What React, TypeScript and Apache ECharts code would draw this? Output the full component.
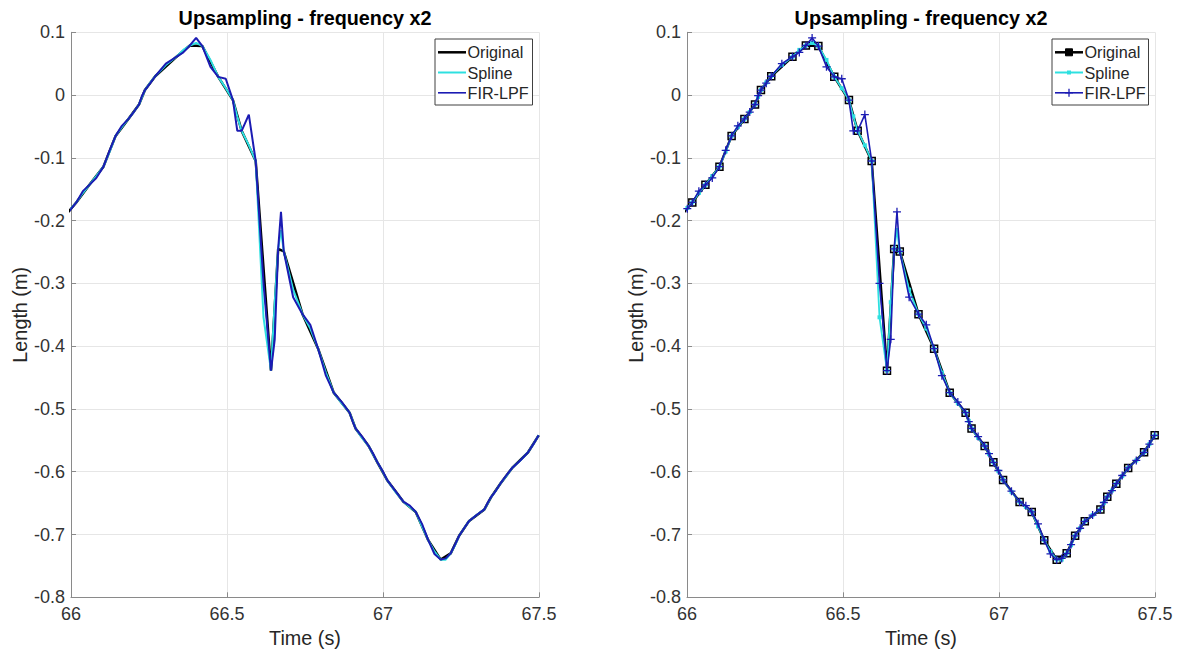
import React, { useEffect, useRef } from "react";
import * as echarts from "echarts";

// ---- Data ----
const origT = [65.985, 66.017, 66.059, 66.104, 66.143, 66.184, 66.218, 66.237, 66.27, 66.338, 66.381, 66.421, 66.472, 66.519, 66.547, 66.592, 66.641, 66.664, 66.682, 66.742, 66.792, 66.842, 66.893, 66.912, 66.954, 66.982, 67.013, 67.066, 67.105, 67.145, 67.185, 67.217, 67.244, 67.275, 67.325, 67.347, 67.376, 67.414, 67.465, 67.499];
const origV = [-0.19, -0.171, -0.143, -0.114, -0.065, -0.038, -0.015, 0.008, 0.03, 0.061, 0.079, 0.078, 0.029, -0.008, -0.057, -0.105, -0.439, -0.245, -0.249, -0.349, -0.404, -0.474, -0.506, -0.531, -0.559, -0.585, -0.613, -0.648, -0.664, -0.709, -0.74, -0.73, -0.702, -0.679, -0.66, -0.64, -0.619, -0.594, -0.569, -0.542];

// inserted (upsampled) samples between the original ones
const midT = [66.001, 66.038, 66.081, 66.124, 66.163, 66.201, 66.228, 66.254, 66.304, 66.36, 66.401, 66.447, 66.496, 66.533, 66.57, 66.617, 66.653, 66.673, 66.712, 66.767, 66.817, 66.868, 66.903, 66.933, 66.968, 66.998, 67.04, 67.086, 67.125, 67.165, 67.201, 67.231, 67.26, 67.3, 67.336, 67.362, 67.395, 67.44, 67.482];
const splineMidV = [-0.18, -0.156, -0.129, -0.09, -0.051, -0.027, -0.003, 0.02, 0.048, 0.072, 0.083, 0.056, 0.011, -0.034, -0.08, -0.354, -0.33, -0.215, -0.31, -0.372, -0.442, -0.491, -0.519, -0.546, -0.572, -0.599, -0.632, -0.656, -0.687, -0.727, -0.74, -0.717, -0.69, -0.669, -0.65, -0.63, -0.607, -0.582, -0.556];
const firMidV = [-0.181, -0.153, -0.132, -0.088, -0.049, -0.027, -0.001, 0.019, 0.05, 0.068, 0.091, 0.045, 0.026, -0.057, -0.031, -0.3, -0.389, -0.186, -0.322, -0.366, -0.447, -0.489, -0.52, -0.544, -0.571, -0.598, -0.631, -0.654, -0.683, -0.731, -0.738, -0.716, -0.69, -0.669, -0.649, -0.63, -0.606, -0.582, -0.556];

const seriesNames = ["Original", "Spline", "FIR-LPF"];
const xTicks = { min: 66, max: 67.5, interval: 0.5 };
const yTicks = { min: -0.8, max: 0.1, interval: 0.1 };
const titleText = "Upsampling - frequency x2";
const xName = "Time (s)";
const yName = "Length (m)";

// ---- Styles ----
const FONT = '"Liberation Sans", Arial, Helvetica, sans-serif';
const TXT = "#262626";
const C_ORIG = "#000000";
const C_SPL = "#2ee0e0";
const C_FIR = "#1b1bb3";
const PLUS = "path://M4.2,0 H5.8 V4.2 H10 V5.8 H5.8 V10 H4.2 V5.8 H0 V4.2 H4.2 Z";

function merge(tA: number[], vA: number[], tB: number[], vB: number[]) {
  const pts: number[][] = [];
  tA.forEach((t, i) => pts.push([t, vA[i]]));
  tB.forEach((t, i) => pts.push([t, vB[i]]));
  pts.sort((a, b) => a[0] - b[0]);
  return pts;
}

const origData = origT.map((t, i) => [t, origV[i]]);
const splineData = merge(origT, origV, midT, splineMidV);
const firData = merge(origT, origV, midT, firMidV);

const GRIDS = [
  { left: 71, top: 32.3, width: 468, height: 565 },
  { left: 687, top: 32.3, width: 468, height: 565 },
];

function fmt(v: number) {
  return String(Math.round(v * 10) / 10);
}

function legendGraphics(x: number, w: number, markers: boolean) {
  const els: any[] = [];
  els.push({
    type: "rect",
    z: 100,
    shape: { x, y: 39, width: w, height: 66 },
    style: { fill: "#ffffff", stroke: "#404040", lineWidth: 1 },
  });
  const ys = [52.3, 72.5, 92.8];
  const cols = [C_ORIG, C_SPL, C_FIR];
  const widths = [2.5, 2, 1.6];
  ys.forEach((y, i) => {
    els.push({
      type: "line",
      z: 101,
      shape: { x1: x + 3, y1: y, x2: x + 31, y2: y },
      style: { stroke: cols[i], lineWidth: widths[i] },
    });
    els.push({
      type: "text",
      z: 101,
      x: x + 32.5,
      y,
      style: {
        text: seriesNames[i],
        font: `16.2px ${FONT}`,
        fill: TXT,
        align: "left",
        verticalAlign: "middle",
      },
    });
  });
  if (markers) {
    const cx = x + 17;
    els.push({
      type: "rect",
      z: 102,
      shape: { x: cx - 3.5, y: ys[0] - 3.5, width: 7, height: 7 },
      style: { fill: "#000", stroke: "#000", lineWidth: 1 },
    });
    els.push({
      type: "rect",
      z: 102,
      shape: { x: cx - 2, y: ys[1] - 2, width: 4, height: 4 },
      style: { fill: C_SPL },
    });
    els.push({
      type: "line",
      z: 102,
      shape: { x1: cx - 4, y1: ys[2], x2: cx + 4, y2: ys[2] },
      style: { stroke: C_FIR, lineWidth: 1.3 },
    });
    els.push({
      type: "line",
      z: 102,
      shape: { x1: cx, y1: ys[2] - 4, x2: cx, y2: ys[2] + 4 },
      style: { stroke: C_FIR, lineWidth: 1.3 },
    });
  }
  return els;
}

export default function App() {
  const ref = useRef<HTMLDivElement>(null);

  useEffect(() => {
    if (!ref.current) return;
    const chart = echarts.init(ref.current, undefined, { renderer: "svg" });

    const xAxes = GRIDS.map((_, gi) => ({
      type: "value",
      gridIndex: gi,
      min: xTicks.min,
      max: xTicks.max,
      interval: xTicks.interval,
      name: xName,
      nameLocation: "middle",
      nameGap: 31,
      nameTextStyle: { fontFamily: FONT, fontSize: 19.8, color: TXT },
      axisLine: { show: true, onZero: false, lineStyle: { color: "#8a8a8a", width: 1 } },
      axisTick: { show: true, inside: true, length: 5, lineStyle: { color: "#8a8a8a" } },
      axisLabel: { fontFamily: FONT, fontSize: 18, color: "#333333", margin: 8, formatter: (v: number) => String(v) },
      splitLine: { show: true, lineStyle: { color: "#e6e6e6", width: 1 } },
    }));

    const yAxes = GRIDS.map((_, gi) => ({
      type: "value",
      gridIndex: gi,
      min: yTicks.min,
      max: yTicks.max,
      interval: yTicks.interval,
      name: yName,
      nameLocation: "middle",
      nameGap: 41,
      nameTextStyle: { fontFamily: FONT, fontSize: 19.8, color: TXT },
      axisLine: { show: true, onZero: false, lineStyle: { color: "#8a8a8a", width: 1 } },
      axisTick: { show: true, inside: true, length: 5, lineStyle: { color: "#8a8a8a" } },
      axisLabel: { fontFamily: FONT, fontSize: 18, color: "#333333", margin: 6, formatter: fmt },
      splitLine: { show: true, lineStyle: { color: "#e6e6e6", width: 1 } },
    }));

    const series: any[] = [];
    // left: lines only
    series.push(
      { name: seriesNames[0], type: "line", xAxisIndex: 0, yAxisIndex: 0, data: origData, showSymbol: false, lineStyle: { color: C_ORIG, width: 2.5 }, itemStyle: { color: C_ORIG }, z: 2 },
      { name: seriesNames[1], type: "line", xAxisIndex: 0, yAxisIndex: 0, data: splineData, showSymbol: false, lineStyle: { color: C_SPL, width: 2 }, itemStyle: { color: C_SPL }, z: 3 },
      { name: seriesNames[2], type: "line", xAxisIndex: 0, yAxisIndex: 0, data: firData, showSymbol: false, lineStyle: { color: C_FIR, width: 2 }, itemStyle: { color: C_FIR }, z: 4 }
    );
    // right: lines with markers
    series.push(
      {
        name: seriesNames[0], type: "line", xAxisIndex: 1, yAxisIndex: 1, data: origData,
        symbol: "rect", symbolSize: 7, showSymbol: true,
        lineStyle: { color: C_ORIG, width: 2.5 },
        itemStyle: { color: "rgba(0,0,0,0)", borderColor: C_ORIG, borderWidth: 1.5 }, z: 2,
      },
      {
        name: seriesNames[1], type: "line", xAxisIndex: 1, yAxisIndex: 1, data: splineData,
        symbol: "rect", symbolSize: 4, showSymbol: true,
        lineStyle: { color: C_SPL, width: 1.8 },
        itemStyle: { color: C_SPL }, z: 3,
      },
      {
        name: seriesNames[2], type: "line", xAxisIndex: 1, yAxisIndex: 1, data: firData,
        symbol: PLUS, symbolSize: 8, showSymbol: true,
        lineStyle: { color: C_FIR, width: 1.6 },
        itemStyle: { color: C_FIR }, z: 4,
      }
    );

    const graphics: any[] = [];
    GRIDS.forEach((g) => {
      graphics.push({
        type: "text",
        z: 100,
        x: g.left + g.width / 2,
        y: 17.5,
        style: {
          text: titleText,
          font: `bold 19.8px ${FONT}`,
          fill: "#000000",
          align: "center",
          verticalAlign: "middle",
        },
      });
    });
    graphics.push(...legendGraphics(435, 97.5, false));
    graphics.push(...legendGraphics(1052, 96.5, true));

    chart.setOption({
      animation: false,
      backgroundColor: "#ffffff",
      grid: GRIDS,
      xAxis: xAxes,
      yAxis: yAxes,
      series,
      graphic: graphics,
    });

    return () => chart.dispose();
  }, []);

  return (
    <div
      ref={ref}
      style={{ position: "absolute", left: 0, top: 0, width: 1184, height: 657, background: "#fff" }}
    />
  );
}
